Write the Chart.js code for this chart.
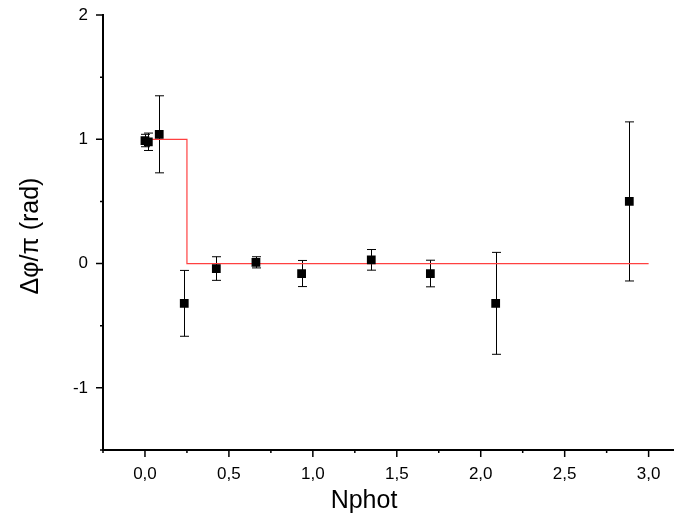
<!DOCTYPE html>
<html>
<head>
<meta charset="utf-8">
<script src="https://cdn.jsdelivr.net/npm/chart.js@4.4.0/dist/chart.umd.min.js"></script>
<style>
html,body{margin:0;padding:0;background:#fff}
#wrap{width:680px;height:518px}
</style>
</head>
<body>
<div id="wrap"><canvas id="phaseChart"></canvas></div>
<script>
// measured points with symmetric error bars
const nphot    = [0.0, 0.02, 0.085, 0.234, 0.425, 0.661, 0.933, 1.348, 1.70, 2.089, 2.885];
const phase    = [0.99, 0.98, 1.04, -0.32, -0.04, 0.01, -0.08, 0.03, -0.08, -0.32, 0.50];
const phaseErr = [0.05, 0.07, 0.31, 0.265, 0.095, 0.045, 0.105, 0.083, 0.107, 0.41, 0.64];
// red step model
const stepX = [0, 0.25, 3.0];
const stepY = [1, 0, 0];
// axis ticks
const xTicks = [0, 0.5, 1.0, 1.5, 2.0, 2.5, 3.0];
const yTicks = [-1, 0, 1, 2];

const ctx = document.getElementById('phaseChart');

const extras = {
    id: 'extras',
    beforeDatasetsDraw(chart) {
        const c = chart.ctx, xs = chart.scales.x, ys = chart.scales.y;
        c.save();
        c.strokeStyle = '#000';
        c.lineWidth = 1;
        for (let i = 0; i < nphot.length; i++) {
            const px = Math.round(xs.getPixelForValue(nphot[i])) + 0.5;
            const t = ys.getPixelForValue(phase[i] + phaseErr[i]);
            const b = ys.getPixelForValue(phase[i] - phaseErr[i]);
            c.beginPath();
            c.moveTo(px, t); c.lineTo(px, b);
            c.moveTo(px - 4.5, t); c.lineTo(px + 4.5, t);
            c.moveTo(px - 4.5, b); c.lineTo(px + 4.5, b);
            c.stroke();
        }
        c.restore();
    },
    afterDraw(chart) {
        const c = chart.ctx, xs = chart.scales.x, ys = chart.scales.y;
        const area = chart.chartArea;
        c.save();
        c.strokeStyle = '#000';
        c.lineWidth = 1.5;
        c.beginPath();
        // x ticks, major + minor halfway
        xTicks.forEach(v => {
            const p = xs.getPixelForValue(v);
            c.moveTo(p, area.bottom); c.lineTo(p, area.bottom + 7);
        });
        for (let v = xTicks[0] - 0.25; v <= xs.max; v += 0.5) {
            const p = xs.getPixelForValue(v);
            if (p < area.left - 0.5) continue;
            c.moveTo(p, area.bottom); c.lineTo(p, area.bottom + 3);
        }
        yTicks.forEach(v => {
            const p = ys.getPixelForValue(v);
            c.moveTo(area.left, p); c.lineTo(area.left - 7, p);
        });
        for (let v = yTicks[0] - 0.5; v <= ys.max; v += 1) {
            const p = ys.getPixelForValue(v);
            if (p > area.bottom + 0.5) continue;
            c.moveTo(area.left, p); c.lineTo(area.left - 3, p);
        }
        c.stroke();

        // axis titles
        c.fillStyle = '#000';
        c.font = '25px "Liberation Sans", Arial, sans-serif';
        c.textAlign = 'center';
        c.textBaseline = 'alphabetic';
        c.fillText('Nphot', 364, 508);
        c.translate(38, 236);
        c.rotate(-Math.PI / 2);
        c.fillText('Δφ/π (rad)', 0, 0);
        c.restore();
    }
};

new Chart(ctx, {
    type: 'scatter',
    data: {
        datasets: [{
            label: 'data',
            data: nphot.map((x, i) => ({x: x, y: phase[i]})),
            pointStyle: 'rect',
            pointRadius: 6.2,
            pointHoverRadius: 6.2,
            backgroundColor: '#000',
            borderColor: '#000',
            borderWidth: 0,
            order: 0
        }, {
            type: 'line',
            label: 'step',
            data: stepX.map((x, i) => ({x: x, y: stepY[i]})),
            stepped: 'before',
            borderColor: '#ff4040',
            borderWidth: 1.2,
            pointRadius: 0,
            fill: false,
            order: 1
        }]
    },
    options: {
        responsive: true,
        maintainAspectRatio: false,
        animation: false,
        layout: {padding: {top: 15, left: 0, right: 0, bottom: 0}},
        plugins: {
            legend: {display: false},
            tooltip: {enabled: false}
        },
        scales: {
            x: {
                type: 'linear',
                min: -0.25,
                max: 3.15,
                afterBuildTicks: s => { s.ticks = xTicks.map(v => ({value: v})); },
                afterFit: s => { s.height = 68; s.paddingLeft = 0; s.paddingRight = 0; },
                grid: {display: false, drawTicks: false},
                border: {display: true, color: '#000', width: 2},
                ticks: {
                    color: '#000',
                    padding: 14,
                    maxRotation: 0,
                    font: {family: '"Liberation Sans", Arial, sans-serif', size: 17},
                    callback: v => v.toFixed(1).replace('.', ',')
                }
            },
            y: {
                type: 'linear',
                min: -1.5,
                max: 2,
                afterBuildTicks: s => { s.ticks = yTicks.map(v => ({value: v})); },
                afterFit: s => { s.width = 103; s.paddingTop = 0; s.paddingBottom = 0; },
                grid: {display: false, drawTicks: false},
                border: {display: true, color: '#000', width: 2},
                ticks: {
                    color: '#000',
                    padding: 15,
                    font: {family: '"Liberation Sans", Arial, sans-serif', size: 17},
                    callback: v => String(v)
                }
            }
        }
    },
    plugins: [extras]
});
</script>
</body>
</html>
